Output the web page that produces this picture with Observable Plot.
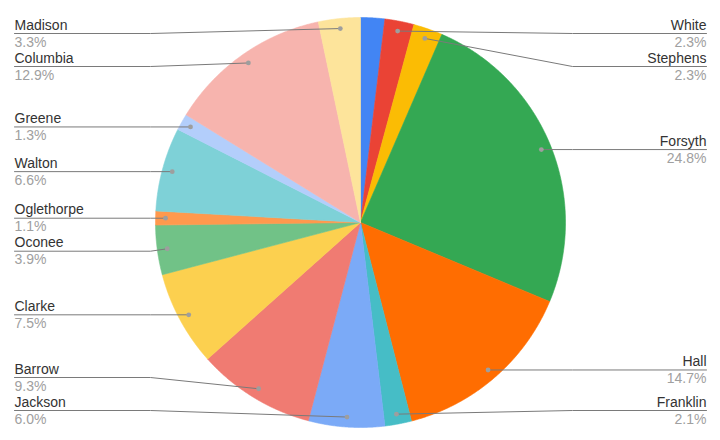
<!DOCTYPE html>
<html><head><meta charset="utf-8">
<script src="https://cdn.jsdelivr.net/npm/d3@7"></script>
<script src="https://cdn.jsdelivr.net/npm/@observablehq/plot@0.6"></script>
<style>html,body{margin:0;padding:0;background:#fff;font-family:"Liberation Sans",Arial,sans-serif}</style>
</head><body><div id="chart"></div>
<script>
// Data (percent shares, clockwise from 12 o'clock)
const counties = ["", "White", "Stephens", "Forsyth", "Hall", "Franklin", "Jackson", "Barrow", "Clarke", "Oconee", "Oglethorpe", "Walton", "Greene", "Columbia", "Madison"];
const shares = [1.9, 2.3, 2.3, 24.8, 14.7, 2.1, 6.0, 9.3, 7.5, 3.9, 1.1, 6.6, 1.3, 12.9, 3.3];
const colors = ["#4285F4","#EA4335","#FBBC04","#34A853","#FF6D01","#46BDC6","#7BAAF7","#F07B72","#FCD04F","#71C287","#FF994D","#7ED1D7","#B3CEFB","#F7B4AE","#FDE49B"];

const table = counties.map((name, i) => ({key: "s" + i, name, share: shares[i]}));
const keys = table.map(d => d.key);

const R = 205, RD = 195;
const arcs = d3.pie().sort(null).value(d => d.share)(table);

// slice polygons
const pts = [];
for (const a of arcs) {
  const k = a.data.key;
  pts.push({k, x: 0, y: 0});
  const n = Math.max(2, Math.ceil((a.endAngle - a.startAngle) / 0.004));
  for (let j = 0; j <= n; j++) {
    const t = a.startAngle + (a.endAngle - a.startAngle) * j / n;
    pts.push({k, x: R * Math.sin(t), y: R * Math.cos(t)});
  }
  pts.push({k, x: 0, y: 0});
}

// labels
const labels = arcs.filter(a => a.data.name).map(a => {
  const m = (a.startAngle + a.endAngle) / 2;
  return {name: a.data.name, pct: a.data.share.toFixed(1) + "%", side: m < Math.PI ? 1 : -1,
          dx: RD * Math.sin(m), dy: RD * Math.cos(m)};
});
const TOP = 189, BOTTOM = -188, GAP = 33;
for (const s of [1, -1]) {
  const L = labels.filter(d => d.side === s).sort((a, b) => b.dy - a.dy);
  let prev = Infinity;
  for (const d of L) { d.ly = Math.min(d.dy, prev - GAP, TOP); prev = d.ly; }
  let next = -Infinity;
  for (let i = L.length - 1; i >= 0; i--) { const d = L[i]; d.ly = Math.max(d.ly, next + GAP, BOTTOM); next = d.ly; }
}
const EDGE = {"1": 346, "-1": -346}, ELBOW = {"1": 212, "-1": -210};
const leader = labels.flatMap(d => [
  {name: d.name, x: d.dx, y: d.dy},
  {name: d.name, x: ELBOW[d.side], y: d.ly},
  {name: d.name, x: EDGE[d.side], y: d.ly}
]);
const left = labels.filter(d => d.side < 0), right = labels.filter(d => d.side > 0);
const font = {fontSize: 14, fontFamily: "'Liberation Sans', Arial, sans-serif", lineAnchor: "bottom"};

const chart = Plot.plot({
  width: 720, height: 440, margin: 0,
  x: {domain: [-360, 360], axis: null},
  y: {domain: [-218, 222], axis: null},
  color: {domain: keys, range: colors},
  style: {background: "#fff", overflow: "visible"},
  marks: [
    Plot.line(pts, {x: "x", y: "y", z: "k", fill: "k", stroke: "k", strokeWidth: 0.6, strokeLinejoin: "round", curve: "linear"}),
    Plot.line(leader, {x: "x", y: "y", z: "name", stroke: "#7a7a7a", strokeWidth: 1, curve: "linear"}),
    Plot.dot(labels, {x: "dx", y: "dy", r: 2.4, fill: "#9e9e9e", stroke: null}),
    Plot.text(left, {x: d => EDGE[d.side], y: "ly", text: "name", textAnchor: "start", dy: -4, fill: "#333", ...font}),
    Plot.text(left, {x: d => EDGE[d.side], y: "ly", text: "pct", textAnchor: "start", dy: 13, fill: "#a0a0a0", ...font}),
    Plot.text(right, {x: d => EDGE[d.side], y: "ly", text: "name", textAnchor: "end", dy: -4, fill: "#333", ...font}),
    Plot.text(right, {x: d => EDGE[d.side], y: "ly", text: "pct", textAnchor: "end", dy: 13, fill: "#a0a0a0", ...font})
  ]
});
document.getElementById("chart").appendChild(chart);
</script>
</body></html>
